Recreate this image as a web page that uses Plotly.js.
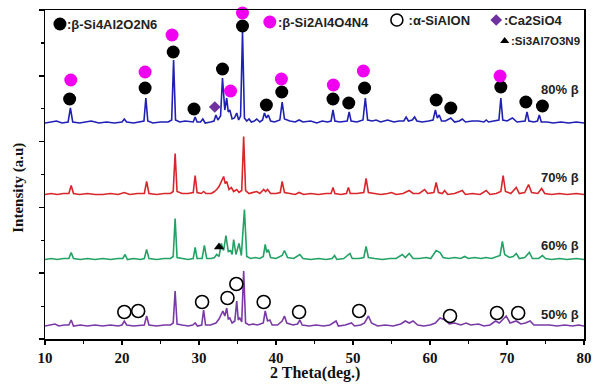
<!DOCTYPE html>
<html><head><meta charset="utf-8">
<script src="https://cdn.plot.ly/plotly-3.0.1.min.js"></script>
<style>html,body{margin:0;padding:0;background:#fff}#chart{width:600px;height:385px}</style>
</head><body><div id="chart"></div>
<script>
// 2θ (deg) / intensity (a.u., above each pattern's own baseline)
const pattern80 = [[10,1],[10.8,2],[11.5,3],[12.2,1],[13.0,2],[13.3,16],[13.6,2],[14.5,1],[15.3,2],[16.0,3],[17.0,1],[18.0,2],[19.0,1],[20.0,2],[20.3,5],[20.6,2],[21.5,1],[22.5,2],[22.85,3],[23.1,26],[23.35,3],[24.0,1],[25.0,2],[26.0,2],[26.45,4],[26.7,64],[26.95,4],[27.5,2],[28.2,3],[29.25,2],[29.5,7],[29.75,2],[30.2,2],[30.5,5],[30.8,1],[31.5,2],[31.95,3],[32.2,9],[32.45,4],[32.8,8],[33.05,46],[33.35,14],[33.6,26],[33.8,12],[34.0,14],[34.3,5],[34.6,6],[34.9,11],[35.15,4],[35.4,8],[35.65,92],[35.9,6],[36.2,3],[36.5,5],[36.8,2],[37.2,3],[37.5,5],[37.9,2],[38.25,4],[38.5,11],[38.75,6],[39.0,9],[39.3,3],[39.8,2],[40.5,4],[40.8,22],[41.1,5],[41.8,3],[42.5,2],[43.0,4],[43.5,2],[44.5,3],[45.3,1],[46.0,3],[46.7,2],[47.15,3],[47.4,14],[47.65,3],[48.3,2],[49.25,3],[49.5,12],[49.75,3],[50.5,2],[51.3,4],[51.6,26],[51.9,4],[52.5,3],[53.0,4],[53.6,2],[54.5,4],[55.3,2],[56.0,3],[56.6,3],[56.9,7],[57.2,3],[57.7,4],[58.0,7],[58.3,3],[59.0,2],[59.8,3],[60.4,4],[60.7,14],[60.95,6],[61.2,9],[61.5,3],[62.0,3],[62.7,6],[63.2,2],[63.8,3],[64.2,5],[64.6,2],[65.5,3],[66.3,3],[67.0,2],[67.3,4],[67.6,2],[68.3,3],[68.95,4],[69.2,26],[69.45,4],[70.0,3],[70.7,6],[71.3,2],[72.0,3],[72.35,3],[72.6,12],[72.85,3],[73.5,2],[73.95,3],[74.2,9],[74.45,2],[75.2,2],[76.0,1],[77.0,2],[78.0,1],[79.0,2],[80,1]];
const pattern70 = [[10,1],[10.8,2],[11.6,1],[12.4,2],[13.1,2],[13.4,10],[13.7,2],[14.5,1],[15.5,2],[16.5,1],[17.5,1],[18.5,2],[19.5,1],[20.3,3],[21.0,1],[22.0,2],[22.9,2],[23.2,14],[23.5,2],[24.5,1],[25.5,2],[26.3,2],[26.65,4],[26.9,42],[27.15,4],[27.8,2],[28.6,2],[29.25,3],[29.5,20],[29.75,3],[30.3,2],[30.6,4],[30.9,2],[31.6,2],[32.0,4],[32.3,6],[32.6,9],[32.9,15],[33.2,19],[33.4,12],[33.6,14],[33.9,6],[34.2,8],[34.5,4],[34.9,6],[35.2,3],[35.55,5],[35.8,59],[36.05,5],[36.5,2],[37.0,3],[37.5,4],[37.9,2],[38.4,6],[38.65,4],[38.9,6],[39.3,2],[40.0,2],[40.55,3],[40.8,14],[41.1,3],[41.8,2],[42.5,1],[43.0,3],[43.6,1],[44.5,2],[45.5,1],[46.5,2],[47.15,2],[47.4,8],[47.65,2],[48.4,1],[49.15,2],[49.4,8],[49.65,2],[50.5,2],[51.4,3],[51.7,17],[52.0,3],[52.8,2],[53.6,1],[54.5,2],[55.0,3],[55.6,1],[56.5,2],[57.3,5],[57.8,2],[58.6,2],[59.3,6],[59.7,2],[60.5,3],[60.8,13],[61.1,3],[61.6,2],[61.9,5],[62.3,1],[63.2,2],[64.2,5],[64.6,1],[65.5,2],[66.5,1],[67.3,5],[67.8,1],[68.6,2],[69.2,4],[69.5,20],[69.8,4],[70.5,2],[71.2,8],[71.6,2],[72.3,3],[72.8,11],[73.2,3],[74.0,2],[74.5,7],[74.9,2],[75.8,1],[76.8,2],[77.8,1],[79.0,2],[80,1]];
const pattern60 = [[10,1],[10.8,2],[11.6,1],[12.4,2],[13.1,2],[13.4,8],[13.7,2],[14.6,1],[15.5,2],[16.5,1],[17.5,2],[18.5,1],[19.5,2],[20.1,2],[20.4,6],[20.7,1],[21.5,2],[22.4,1],[22.9,2],[23.2,11],[23.5,2],[24.5,1],[25.5,2],[26.3,2],[26.65,4],[26.9,42],[27.15,3],[27.8,2],[28.6,1],[29.25,2],[29.5,13],[29.75,2],[30.4,2],[30.7,15],[31.0,2],[31.6,2],[32.0,3],[32.3,6],[32.6,4],[32.9,17],[33.2,10],[33.5,25],[33.8,9],[34.1,10],[34.3,6],[34.5,21],[34.8,6],[35.2,17],[35.5,5],[35.9,51],[36.2,4],[36.7,2],[37.3,3],[37.9,2],[38.35,4],[38.6,16],[38.8,8],[39.0,11],[39.3,3],[40.0,2],[40.8,5],[41.1,10],[41.5,3],[42.3,2],[43.1,6],[43.5,2],[44.5,1],[45.5,2],[46.5,1],[47.3,2],[47.6,5],[47.9,1],[48.8,2],[49.6,7],[49.9,2],[50.8,2],[51.4,3],[51.7,14],[52.0,3],[52.8,2],[53.8,1],[54.8,2],[55.6,2],[56.4,6],[56.8,3],[57.3,7],[57.8,2],[58.6,2],[59.5,3],[60.1,2],[60.8,10],[61.3,8],[61.7,3],[62.4,2],[63.2,3],[64.0,2],[64.5,4],[65.0,2],[65.8,3],[66.6,2],[67.3,3],[68.0,2],[68.7,4],[69.1,5],[69.4,19],[69.7,6],[70.3,3],[70.8,4],[71.2,7],[71.6,2],[72.3,3],[72.9,8],[73.3,2],[74.1,2],[74.6,5],[75.0,2],[75.8,1],[76.8,2],[77.8,1],[79.0,2],[80,1]];
const pattern50 = [[10,1],[10.6,2],[11.3,3],[11.8,1],[12.5,2],[13.1,2],[13.4,7],[13.7,1],[14.6,2],[15.5,1],[16.5,2],[17.5,1],[18.5,2],[19.5,1],[20.0,2],[20.3,6],[20.6,2],[21.5,1],[22.4,2],[22.9,2],[23.2,11],[23.5,2],[24.5,1],[25.5,2],[26.3,2],[26.65,4],[26.9,36],[27.15,3],[27.8,2],[28.6,1],[29.2,2],[29.5,4],[29.8,1],[30.35,2],[30.6,17],[30.85,2],[31.5,2],[31.9,3],[32.2,4],[32.6,8],[33.1,16],[33.35,11],[33.6,19],[33.8,8],[34.0,9],[34.3,4],[34.65,6],[34.9,26],[35.1,7],[35.3,9],[35.55,5],[35.8,56],[36.05,4],[36.5,2],[37.0,3],[37.6,2],[38.35,4],[38.6,16],[38.9,6],[39.2,7],[39.5,2],[40.2,2],[40.8,6],[41.1,11],[41.4,4],[42.2,2],[42.8,3],[43.1,7],[43.4,2],[44.3,1],[45.2,2],[46.2,1],[47.0,2],[47.8,6],[48.1,1],[49.0,2],[49.8,4],[50.2,1],[51.0,2],[51.5,4],[52.0,11],[52.4,4],[53.2,1],[54.2,2],[55.2,1],[56.2,3],[56.8,6],[57.3,4],[57.8,6],[58.4,2],[59.2,1],[60.0,2],[60.7,4],[61.3,9],[62.0,7],[62.5,3],[63.2,4],[64.0,2],[64.7,4],[65.3,2],[66.3,3],[67.0,1],[67.8,2],[68.5,6],[69.0,4],[69.9,11],[70.4,4],[71.2,6],[71.8,3],[72.4,4],[73.0,6],[73.5,2],[74.3,2],[75.5,2],[76.5,1],[77.5,2],[78.5,1],[79.3,2],[80,1]];

// vertical stacking offsets of each pattern
const seriesNames = ['80% β','70% β','60% β','50% β'];
const seriesOffsets = [215, 143.5, 78.5, 12];
const seriesColors = ['#2020b4','#d8262a','#22a264','#7a3aa6'];
const seriesLabelY = [250, 162, 94, 25];

// phase markers (2θ, height on the stacked scale)
const betaSi4X = [13.2,23.0,26.65,29.35,33.05,35.65,38.75,40.75,47.4,49.45,51.5,60.8,62.7,69.2,72.45,74.6];
const betaSi4Y = [240,251,287,230,270,313,234,247,240,236,251,239,231,252,237,233];
const betaSi2X = [13.35,23.0,26.5,34.1,35.65,40.7,47.45,51.35,69.1];
const betaSi2Y = [259,267,304,248,326,260,254,268,263];
const alphaX = [20.3,22.1,30.4,33.7,34.85,38.4,43.0,50.8,62.6,68.7,71.45];
const alphaY = [27,28,37,41,55,37,27,28,23,26,26];
const ca2sio4X = [32.05], ca2sio4Y = [232];
const si3al7X = [32.6], si3al7Y = [92];

const legendText = [':β-Si4Al2O2N6',':β-Si2Al4O4N4',' :α-SiAlON',':Ca2SiO4',':Si3Al7O3N9'];

const patterns = [pattern80, pattern70, pattern60, pattern50];
const traces = patterns.map((p,i)=>({
  x: p.map(d=>d[0]), y: p.map(d=>d[1]+seriesOffsets[i]),
  type:'scatter', mode:'lines', line:{color:seriesColors[i], width:1.6},
  hoverinfo:'skip', name:seriesNames[i]
}));
function mk(x,y,symbol,color,size,lw){
  return {x:x,y:y,type:'scatter',mode:'markers',cliponaxis:false,hoverinfo:'skip',
    marker:{symbol:symbol,color:color,size:size,line:{width:lw||0,color:color}}};
}
traces.push(mk(betaSi4X,betaSi4Y,'circle','#000',13));
traces.push(mk(betaSi2X,betaSi2Y,'circle','#f000f0',13));
traces.push(mk(alphaX,alphaY,'circle-open','#000',13,1.6));
traces.push(mk(ca2sio4X,ca2sio4Y,'diamond','#7030a0',9));
traces.push(mk(si3al7X,si3al7Y,'triangle-up','#000',9));
// legend symbols
const legX = [11.94,39.2,55.7,68.6,69.7], legY=[315,317,319,319,298];
traces.push(mk([legX[0]],[legY[0]],'circle','#000',13));
traces.push(mk([legX[1]],[legY[1]],'circle','#f000f0',13));
traces.push(mk([legX[2]],[legY[2]],'circle-open','#000',12,1.6));
traces.push(mk([legX[3]],[legY[3]],'diamond','#7030a0',9));
traces.push(mk([legX[4]],[legY[4]],'triangle-up','#000',8));

const legTextX = [12.65,40.0,56.5,69.3,79.75];
const legAnchor = ['left','left','left','left','right'];
const sans = {family:'Liberation Sans, Arial, sans-serif', size:13, color:'#222', weight:'bold'};
const serif = {family:'Liberation Serif, Times New Roman, serif', size:15, color:'#111', weight:'bold'};
const annotations = [];
legendText.forEach((t,i)=>annotations.push({x:legTextX[i],y:legY[i],xref:'x',yref:'y',text:t,showarrow:false,xanchor:legAnchor[i],yanchor:'middle',font:(i===4?Object.assign({},sans,{size:11.5}):sans)}));
seriesNames.forEach((t,i)=>annotations.push({x:79.6,y:seriesLabelY[i],xref:'x',yref:'y',text:t,showarrow:false,xanchor:'right',yanchor:'middle',font:Object.assign({},sans,{size:13})}));
annotations.push({xref:'paper',yref:'paper',x:0.5,y:-0.103,text:'2 Theta(deg.)',showarrow:false,xanchor:'center',yanchor:'middle',font:Object.assign({},serif,{size:16})});
annotations.push({xref:'paper',yref:'paper',x:-0.048,y:0.46,text:'Intensity (a.u)',textangle:-90,showarrow:false,xanchor:'center',yanchor:'middle',font:Object.assign({},serif,{size:15})});

const layout = {
  width:600, height:385, margin:{l:45,r:16,t:10,b:46},
  paper_bgcolor:'#fff', plot_bgcolor:'#fff', showlegend:false, hovermode:false,
  xaxis:{range:[10,80], tick0:10, dtick:10, showline:true, mirror:true, linecolor:'#000', linewidth:1.5,
    ticks:'outside', ticklen:4, tickwidth:1.5, tickcolor:'#000', showgrid:false, zeroline:false,
    tickfont:serif, minor:{dtick:5, ticks:'outside', ticklen:3, tickwidth:1.2, tickcolor:'#000', showgrid:false}},
  yaxis:{range:[0,329], tick0:0, dtick:65.8, showline:true, mirror:true, linecolor:'#000', linewidth:1.5,
    ticks:'outside', ticklen:5, tickwidth:1.5, tickcolor:'#000', showgrid:false, zeroline:false, showticklabels:false,
    minor:{dtick:32.9, ticks:'outside', ticklen:3, tickwidth:1.2, tickcolor:'#000', showgrid:false}},
  annotations:annotations
};
Plotly.newPlot('chart', traces, layout, {staticPlot:true, displayModeBar:false});
</script></body></html>
